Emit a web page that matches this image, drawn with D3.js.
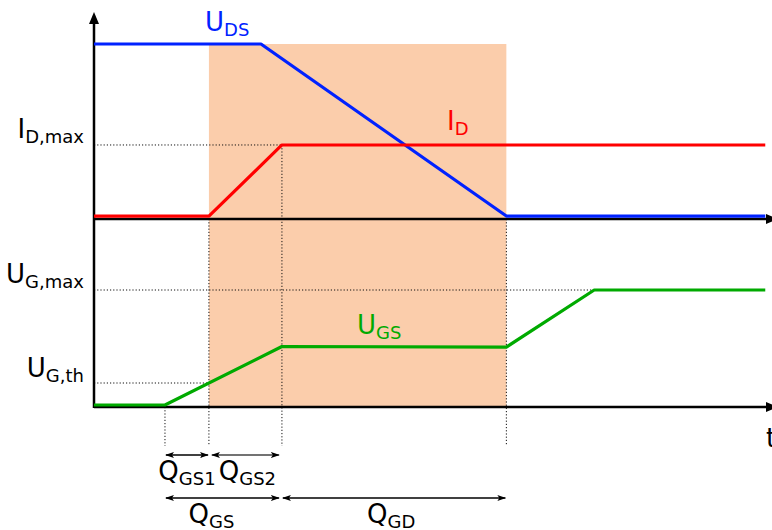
<!DOCTYPE html>
<html>
<head>
<meta charset="utf-8">
<script src="https://cdn.jsdelivr.net/npm/d3@7"></script>
<style>
    body { margin: 0; background: #fff; }
    text { font-family: "DejaVu Sans", Verdana, sans-serif; }
</style>
</head>
<body>
<div id="chart"></div>
<script>
// switching waveforms, time in arbitrary units, values normalised 0..10
const udsTime = [0, 2.47, 6.1, 9.93];
const udsValue = [10, 10, 0.17, 0.17];

const idTime = [0, 1.70, 2.78, 9.93];
const idValue = [0.17, 0.17, 4.23, 4.23];

const ugsTime = [0, 1.05, 2.78, 6.1, 7.4, 9.93];
const ugsValue = [0.17, 0.17, 5.17, 5.12, 10, 10];

// reference levels
const idMax = 4.23;
const ugMax = 10;
const ugTh = 2.05;

// miller plateau region (shaded)
const shadeTime = [1.70, 6.1];
const shadeTop = 10;

// gate charge intervals
const chargeNames = [['Q', 'GS1'], ['Q', 'GS2'], ['Q', 'GS'], ['Q', 'GD']];
const chargeStart = [1.05, 1.73, 1.05, 2.78];
const chargeEnd = [1.70, 2.75, 2.75, 6.1];
const chargeRow = [0, 0, 1, 1];

const svg = d3.select('#chart').append('svg')
    .attr('width', 772)
    .attr('height', 530);

// Scales
const xScale = d3.scaleLinear().domain([0, 10]).range([94, 770]);
const yTop = d3.scaleLinear().domain([0, 10]).range([219, 44]);
const yBottom = d3.scaleLinear().domain([0, 10]).range([407, 290]);
const rowY = [455, 498];

const defs = svg.append('defs');
defs.append('marker')
    .attr('id', 'axis-arrow')
    .attr('markerUnits', 'userSpaceOnUse')
    .attr('markerWidth', 12).attr('markerHeight', 10)
    .attr('refX', 0).attr('refY', 5)
    .attr('orient', 'auto')
    .append('path').attr('d', 'M0,0 L12,5 L0,10 z').attr('fill', '#000');
defs.append('marker')
    .attr('id', 'dim-arrow')
    .attr('markerUnits', 'userSpaceOnUse')
    .attr('markerWidth', 9).attr('markerHeight', 7)
    .attr('refX', 8).attr('refY', 3.5)
    .attr('orient', 'auto-start-reverse')
    .append('path').attr('d', 'M0,0.5 L9,3.5 L0,6.5 L2,3.5 z').attr('fill', '#000');

// shaded region
svg.append('rect')
    .attr('x', xScale(shadeTime[0]))
    .attr('y', yTop(shadeTop))
    .attr('width', xScale(shadeTime[1]) - xScale(shadeTime[0]))
    .attr('height', yBottom(0) - yTop(shadeTop))
    .attr('fill', '#fbcdab');

// dotted helper lines
const dotted = svg.append('g')
    .attr('stroke', '#111')
    .attr('stroke-width', 1)
    .attr('stroke-dasharray', '1.2,2');
const dotLines = [
    [xScale(0), yTop(idMax), xScale(idTime[2]), yTop(idMax)],
    [xScale(0), yBottom(ugMax), xScale(ugsTime[4]), yBottom(ugMax)],
    [xScale(0), yBottom(ugTh), xScale(idTime[1]), yBottom(ugTh)],
    [xScale(ugsTime[1]), yBottom(0), xScale(ugsTime[1]), 446],
    [xScale(idTime[1]), yTop(0), xScale(idTime[1]), 446],
    [xScale(idTime[2]), yTop(idMax), xScale(idTime[2]), 446],
    [xScale(udsTime[2]), yTop(0), xScale(udsTime[2]), 446]
];
dotted.selectAll('line')
    .data(dotLines)
    .join('line')
    .attr('x1', d => d[0]).attr('y1', d => d[1])
    .attr('x2', d => d[2]).attr('y2', d => d[3]);

// axes
const axes = svg.append('g')
    .attr('stroke', '#000')
    .attr('stroke-width', 2.5)
    .attr('marker-end', 'url(#axis-arrow)');
axes.append('line')
    .attr('x1', xScale(0)).attr('y1', yBottom(0) + 1)
    .attr('x2', xScale(0)).attr('y2', 24);
axes.append('line')
    .attr('x1', xScale(0)).attr('y1', yTop(0))
    .attr('x2', 766).attr('y2', yTop(0));
axes.append('line')
    .attr('x1', xScale(0)).attr('y1', yBottom(0))
    .attr('x2', 766).attr('y2', yBottom(0));

// traces
const traces = [
    {t: udsTime, v: udsValue, y: yTop, color: '#0022ff'},
    {t: idTime, v: idValue, y: yTop, color: '#ff0000'},
    {t: ugsTime, v: ugsValue, y: yBottom, color: '#00aa00'}
];
traces.forEach(tr => {
    const line = d3.line()
        .x((d, i) => xScale(tr.t[i]))
        .y(d => tr.y(d));
    svg.append('path')
        .attr('d', line(tr.v))
        .attr('fill', 'none')
        .attr('stroke', tr.color)
        .attr('stroke-width', 3.2)
        .attr('stroke-linejoin', 'round');
});

// label with subscript
function label(x, y, main, sub, color, anchor) {
    const t = svg.append('text')
        .attr('x', x).attr('y', y)
        .attr('fill', color)
        .attr('text-anchor', anchor || 'start')
        .style('font-size', '26px');
    t.append('tspan').text(main);
    t.append('tspan').attr('dy', 5).style('font-size', '18px').text(sub);
    return t;
}

label(84, yTop(idMax) - 7, 'I', 'D,max', '#000', 'end');
label(84, yBottom(ugMax) - 7, 'U', 'G,max', '#000', 'end');
label(84, yBottom(ugTh) - 6, 'U', 'G,th', '#000', 'end');

label(205, yTop(udsValue[0]) - 13, 'U', 'DS', '#0022ff');
label(447, yTop(idMax) - 15, 'I', 'D', '#ff0000');
label(357, yBottom(ugsValue[2]) - 13, 'U', 'GS', '#00aa00');

svg.append('text')
    .attr('x', 766).attr('y', 447)
    .style('font-size', '26px')
    .text('t');

// gate charge dimension arrows
const labelShift = [0, 2, -11, -3];
chargeNames.forEach((name, i) => {
    const x0 = xScale(chargeStart[i]);
    const x1 = xScale(chargeEnd[i]);
    const y = rowY[chargeRow[i]];
    svg.append('line')
        .attr('x1', x0 + 1).attr('y1', y)
        .attr('x2', x1 - 1).attr('y2', y)
        .attr('stroke', i === 1 ? '#444' : '#000')
        .attr('stroke-width', 1.3)
        .attr('marker-start', 'url(#dim-arrow)')
        .attr('marker-end', 'url(#dim-arrow)');
    label((x0 + x1) / 2 + labelShift[i], y + 25, name[0], name[1], '#000', 'middle');
});
</script>
</body>
</html>
